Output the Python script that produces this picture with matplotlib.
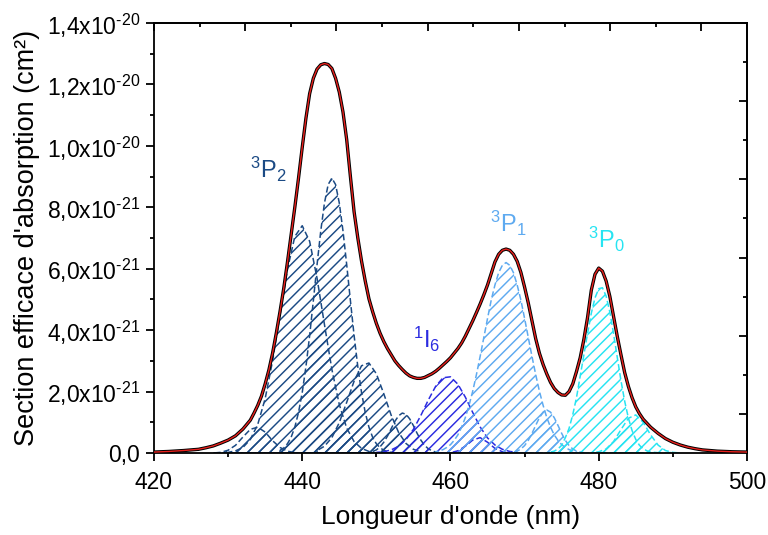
import numpy as np
import matplotlib
matplotlib.use("Agg")
import matplotlib.pyplot as plt

plt.rcParams['font.family'] = ['Liberation Sans', 'DejaVu Sans']
plt.rcParams['mathtext.fontset'] = 'custom'
plt.rcParams['mathtext.rm'] = 'Liberation Sans'
plt.rcParams['mathtext.it'] = 'Liberation Sans:italic'
plt.rcParams['mathtext.bf'] = 'Liberation Sans:bold'
plt.rcParams['mathtext.default'] = 'regular'
plt.rcParams['hatch.linewidth'] = 1.05

UNIT = 1e-21  # values below are in units of 1e-21 cm^2

# ---- measured / fitted total absorption cross-section ----
wl_total = [420, 422, 424, 426, 427, 428, 429, 430, 431, 432, 433, 433.5, 434, 434.5,
            435, 435.5, 436, 436.5, 437, 437.5, 438, 438.5, 439, 439.5, 440, 440.5,
            441, 441.5, 442, 442.5, 443, 443.5, 444, 444.5, 445, 445.5, 446, 446.5,
            447, 447.5, 448, 448.5, 449, 449.5, 450, 450.5, 451, 451.5, 452, 452.5,
            453, 453.5, 454, 454.5, 455, 455.5, 456, 456.5, 457, 457.5, 458, 458.5,
            459, 459.5, 460, 460.5, 461, 461.5, 462, 462.5, 463, 463.5, 464, 464.5,
            465, 465.5, 466, 466.5, 467, 467.5, 468, 468.5, 469, 469.5, 470, 470.5,
            471, 471.5, 472, 472.5, 473, 473.5, 474, 474.5, 475, 475.5, 476, 476.5,
            477, 477.5, 478, 478.5, 479, 479.5, 480, 480.5, 481, 481.5, 482, 482.5,
            483, 483.5, 484, 484.5, 485, 485.5, 486, 487, 488, 489, 490, 491, 492,
            493, 494, 496, 498, 500]
sigma_total = [0.03, 0.05, 0.08, 0.12, 0.17, 0.23, 0.32, 0.42, 0.56, 0.78, 1.07, 1.30, 1.55, 1.85,
               2.25, 2.70, 3.25, 3.90, 4.60, 5.35, 6.20, 7.10, 8.00, 8.95, 9.95, 10.90,
               11.70, 12.20, 12.50, 12.64, 12.68, 12.65, 12.52, 12.20, 11.75, 11.10, 10.20, 9.00,
               7.85, 7.00, 6.25, 5.60, 5.02, 4.60, 4.22, 3.90, 3.63, 3.40, 3.20, 3.00,
               2.85, 2.72, 2.60, 2.51, 2.46, 2.43, 2.43, 2.46, 2.52, 2.58, 2.66, 2.76,
               2.87, 2.98, 3.10, 3.25, 3.40, 3.58, 3.80, 4.05, 4.30, 4.57, 4.85, 5.15,
               5.47, 5.85, 6.22, 6.47, 6.60, 6.64, 6.60, 6.47, 6.24, 5.88, 5.40, 4.88,
               4.30, 3.72, 3.25, 2.88, 2.57, 2.30, 2.10, 1.97, 1.89, 1.88, 2.00, 2.25,
               2.65, 3.10, 3.70, 4.42, 5.30, 5.82, 6.02, 5.92, 5.60, 5.10, 4.45, 3.80,
               3.20, 2.62, 2.17, 1.80, 1.50, 1.28, 1.10, 0.84, 0.64, 0.47, 0.35, 0.26, 0.19,
               0.14, 0.10, 0.06, 0.04, 0.03]

# ---- fitted components (start wavelength, step in nm, values) ----
p2a_start, p2a_step = 430, 1.0
p2a_vals = [0.02, 0.07, 0.18, 0.44, 0.93, 1.77, 3.00, 4.49, 5.97, 7.05, 7.40, 6.89, 5.69,
            4.18, 2.72, 1.58, 0.81, 0.37, 0.15, 0.05, 0.0]
p2b_start, p2b_step = 437, 0.5
p2b_vals = [0.09, 0.16, 0.30, 0.51, 0.84, 1.32, 1.97, 2.81, 3.82, 4.96, 6.13, 7.23, 8.14,
            8.74, 8.95, 8.74, 8.14, 7.23, 6.13, 4.96, 3.82, 2.81, 1.97, 1.32, 0.84, 0.51,
            0.30, 0.17, 0.09, 0.04, 0.02]
p2c_start, p2c_step = 442, 1.0
p2c_vals = [0.08, 0.22, 0.50, 0.99, 1.65, 2.34, 2.84, 2.93, 2.58, 1.93, 1.23, 0.67, 0.31,
            0.12, 0.04]
p2d_start, p2d_step = 449, 0.5
p2d_vals = [0.02, 0.05, 0.10, 0.20, 0.35, 0.55, 0.79, 1.03, 1.21, 1.30, 1.26, 1.11, 0.89,
            0.64, 0.42, 0.25, 0.14, 0.07, 0.03]
p2e_start, p2e_step = 428, 1.0
p2e_vals = [0.00, 0.02, 0.09, 0.25, 0.52, 0.77, 0.84, 0.68, 0.40, 0.18, 0.06, 0.01]

i6a_start, i6a_step = 450, 1.0
i6a_vals = [0.02, 0.04, 0.10, 0.22, 0.44, 0.77, 1.22, 1.72, 2.17, 2.45, 2.48, 2.24, 1.82,
            1.32, 0.85, 0.49, 0.26, 0.12, 0.05, 0.02]
i6b_start, i6b_step = 460, 1.0
i6b_vals = [0.01, 0.07, 0.22, 0.42, 0.50, 0.35, 0.15, 0.04, 0.01]

p1a_start, p1a_step = 458, 0.5
p1a_vals = [0.04, 0.07, 0.11, 0.18, 0.27, 0.41, 0.59, 0.84, 1.15, 1.55, 2.01, 2.55, 3.14,
            3.76, 4.38, 4.98, 5.47, 5.87, 6.11, 6.20, 6.11, 5.87, 5.47, 4.98, 4.38, 3.76,
            3.14, 2.55, 2.01, 1.55, 1.15, 0.84, 0.59, 0.41, 0.27, 0.18, 0.11, 0.07, 0.04]
p1b_start, p1b_step = 468, 0.5
p1b_vals = [0.01, 0.03, 0.06, 0.13, 0.24, 0.41, 0.64, 0.90, 1.15, 1.33, 1.40, 1.33, 1.15,
            0.90, 0.64, 0.41, 0.24, 0.13, 0.06, 0.03, 0.01]

p0a_start, p0a_step = 473, 0.5
p0a_vals = [0.01, 0.03, 0.06, 0.13, 0.25, 0.50, 0.80, 1.25, 1.80, 2.50, 3.20, 3.90, 4.55,
            5.05, 5.35, 5.38, 5.11, 4.59, 3.89, 3.12, 2.36, 1.69, 1.14, 0.73, 0.44, 0.25,
            0.14, 0.07, 0.03, 0.02, 0.01]
p0b_start, p0b_step = 479, 1.0
p0b_vals = [0.01, 0.04, 0.13, 0.37, 0.76, 1.13, 1.24, 1.00, 0.59, 0.26, 0.08, 0.02, 0.00]

# ---- labels ----
xlabel = "Longueur d'onde (nm)"
ylabel = "Section efficace d'absorption (cm²)"
xticks_major = [420, 440, 460, 480, 500]
xticks_minor = [430, 450, 470, 490]
yticks_major = [0, 2, 4, 6, 8, 10, 12, 14]
ytick_labels = ["0,0", "2,0x10$^{\u201021}$", "4,0x10$^{\u201021}$", "6,0x10$^{\u201021}$",
                "8,0x10$^{\u201021}$", "1,0x10$^{\u201020}$", "1,2x10$^{\u201020}$",
                "1,4x10$^{\u201020}$"]
yticks_minor = [1, 3, 5, 7, 9, 11, 13]
level_labels = [r"$^{3}$P$_{2}$", r"$^{1}$I$_{6}$", r"$^{3}$P$_{1}$", r"$^{3}$P$_{0}$"]
level_label_x = [433.0, 454.9, 465.3, 478.6]
level_label_y = [8.95, 3.42, 7.2, 6.68]

c_p2 = "#1b4a84"
c_i6 = "#2b2be0"
c_p1 = "#5eaaf0"
c_p0 = "#26e4f2"
level_colors = [c_p2, c_i6, c_p1, c_p0]

fig = plt.figure(figsize=(7.68, 5.35), dpi=100)
ax = fig.add_axes([0.2005, 0.1533, 0.7721, 0.8037])


def component(start, step, vals, color):
    y = np.asarray(vals) * UNIT
    x = start + step * np.arange(len(vals))
    ax.fill_between(x, 0, y, facecolor='none', edgecolor=color, hatch='///',
                    linestyle=(0, (4, 2)), linewidth=1.1, zorder=2)


component(p2e_start, p2e_step, p2e_vals, c_p2)
component(p2a_start, p2a_step, p2a_vals, c_p2)
component(p2b_start, p2b_step, p2b_vals, c_p2)
component(p2c_start, p2c_step, p2c_vals, c_p2)
component(p2d_start, p2d_step, p2d_vals, c_p2)
component(i6a_start, i6a_step, i6a_vals, c_i6)
component(i6b_start, i6b_step, i6b_vals, c_i6)
component(p1a_start, p1a_step, p1a_vals, c_p1)
component(p1b_start, p1b_step, p1b_vals, c_p1)
component(p0a_start, p0a_step, p0a_vals, c_p0)
component(p0b_start, p0b_step, p0b_vals, c_p0)

yt = np.asarray(sigma_total) * UNIT
ax.plot(wl_total, yt, color='black', lw=2.4, zorder=4, solid_joinstyle='round')
ax.plot(wl_total, yt, color='#e8201c', lw=1.0, zorder=5)

for lab, lx, ly, lc in zip(level_labels, level_label_x, level_label_y, level_colors):
    ax.text(lx, ly * UNIT, lab, color=lc, fontsize=17, ha='left', va='baseline', zorder=6)

ax.set_xlim(420, 500)
ax.set_ylim(0, 14 * UNIT)
ax.set_xticks(xticks_major)
ax.set_xticks(xticks_minor, minor=True)
ax.set_yticks([v * UNIT for v in yticks_major])
ax.set_yticklabels(ytick_labels)
ax.set_yticks([v * UNIT for v in yticks_minor], minor=True)
ax.tick_params(which='both', direction='out', width=1.3, labelsize=16.5,
               top=False, right=False, colors='black')
ax.tick_params(axis='x', pad=7)
ax.tick_params(axis='y', pad=4)
ax.tick_params(which='major', length=6)
ax.tick_params(which='minor', length=3)
for s in ax.spines.values():
    s.set_linewidth(1.3)

# secondary frame ticks (top and right, pointing inward)
n_top = 13
top_major = [420 + k * 80 / n_top for k in range(0, n_top + 1, 2)]
top_minor = [420 + k * 80 / n_top for k in range(1, n_top, 2)]
secx = ax.secondary_xaxis('top')
secx.set_xticks(top_major)
secx.set_xticks(top_minor, minor=True)
secx.tick_params(which='both', direction='in', width=1.3, labeltop=False)
secx.tick_params(which='major', length=6)
secx.tick_params(which='minor', length=3)
secx.spines['top'].set_linewidth(1.3)

n_right = 11
right_major = [k * 14 / n_right * UNIT for k in range(1, n_right, 2)]
right_minor = [k * 14 / n_right * UNIT for k in range(2, n_right, 2)]
secy = ax.secondary_yaxis('right')
secy.set_yticks(right_major)
secy.set_yticks(right_minor, minor=True)
secy.tick_params(which='both', direction='in', width=1.3, labelright=False)
secy.tick_params(which='major', length=6)
secy.tick_params(which='minor', length=3)
secy.spines['right'].set_linewidth(1.3)

ax.set_xlabel(xlabel, fontsize=19, labelpad=8)
ax.set_ylabel(ylabel, fontsize=19.5, labelpad=5)

fig.savefig("out.png", dpi=100)
